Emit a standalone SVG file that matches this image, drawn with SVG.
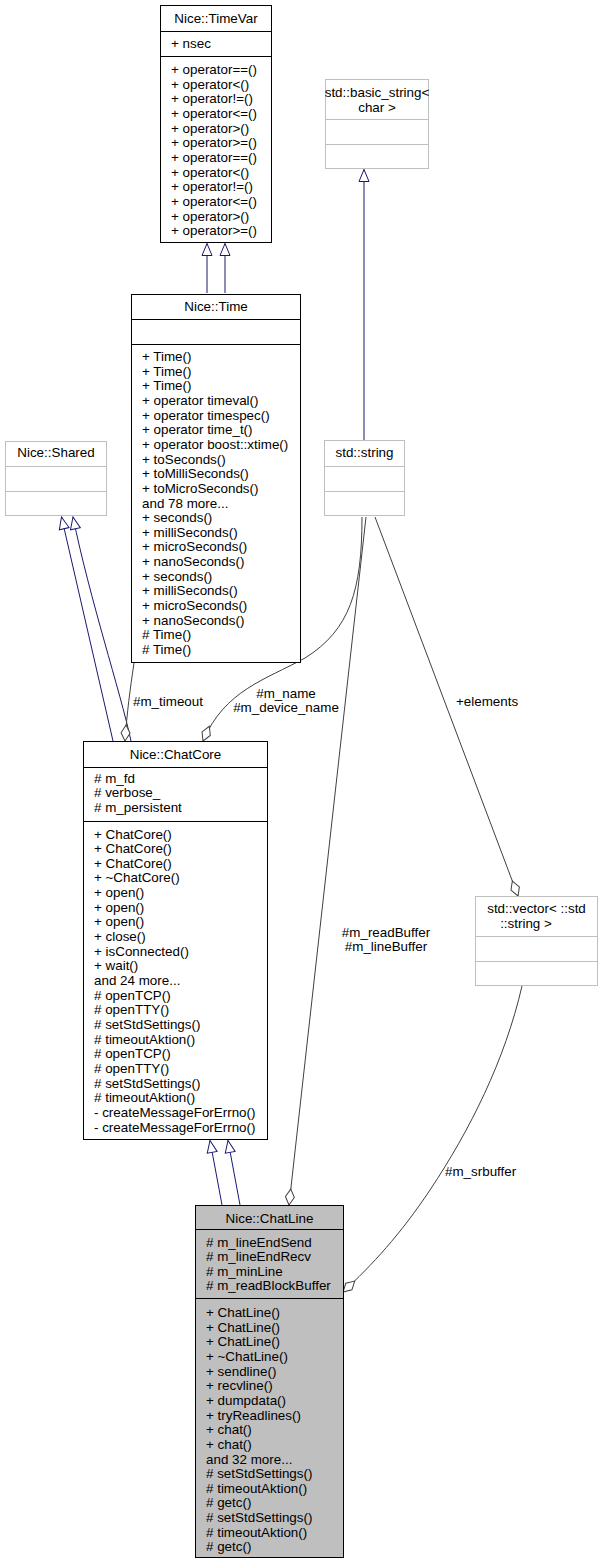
<svg xmlns="http://www.w3.org/2000/svg" width="604" height="1565" viewBox="0 0 604 1565">
<style>
text{font-family:"Liberation Sans",Arial,sans-serif;font-size:13.4px;fill:#000}
.c{text-anchor:middle}
.box{fill:#fff;stroke:#000;stroke-width:1}
.gbox{fill:#fff;stroke:#bfbfbf;stroke-width:1}
.sel{fill:#bfbfbf;stroke:#000;stroke-width:1}
.sep{stroke:#000;stroke-width:1}
.gsep{stroke:#bfbfbf;stroke-width:1}
.inh{fill:none;stroke:#191970;stroke-width:1;marker-end:url(#tri)}
.agg{fill:none;stroke:#404040;stroke-width:1;marker-end:url(#dia)}
</style>
<defs>
<marker id="tri" markerUnits="userSpaceOnUse" markerWidth="14" markerHeight="12" refX="12" refY="5" orient="auto" overflow="visible">
<path d="M0,0 L12,5 L0,10 Z" fill="#fff" stroke="#191970" stroke-width="1"/>
</marker>
<marker id="dia" markerUnits="userSpaceOnUse" markerWidth="18" markerHeight="12" refX="16" refY="5" orient="auto" overflow="visible">
<path d="M0,5 L8,0.5 L16,5 L8,9.5 Z" fill="#fff" stroke="#404040" stroke-width="1"/>
</marker>
</defs>
<rect width="604" height="1565" fill="#fff"/>

<g id="connectors">
<path class="inh" d="M207,293 L207,243.5"/>
<path class="inh" d="M225,293 L225,243.5"/>
<path class="inh" d="M364,440 L364,169.5"/>
<path class="inh" d="M113,741 L61.5,517"/>
<path class="inh" d="M131,741 C120,690 90,600 73,517"/>
<path class="inh" d="M222,1205 L210,1140.5"/>
<path class="inh" d="M240,1205 L228,1140.5"/>
<path class="agg" d="M134,663 C130,690 127,712 125,741"/>
<path class="agg" d="M362,517 C362,590 350,630 305,658 C265,680 225,690 203,741"/>
<path class="agg" d="M366,517 L289,1205"/>
<path class="agg" d="M375,517 L518,896"/>
<path class="agg" d="M522,986 C505,1060 470,1130 430,1190 C400,1235 372,1265 343,1292"/>
<text x="133" y="706">#m_timeout</text>
<text class="c" x="286" y="698">#m_name</text>
<text class="c" x="286" y="712">#m_device_name</text>
<text x="456" y="706">+elements</text>
<text class="c" x="386" y="936.5">#m_readBuffer</text>
<text class="c" x="386" y="951">#m_lineBuffer</text>
<text x="445" y="1176">#m_srbuffer</text>
</g>

<g id="TimeVar">
<rect class="box" x="160.5" y="5.5" width="111" height="237"/>
<line class="sep" x1="160.5" y1="31.5" x2="271.5" y2="31.5"/>
<line class="sep" x1="160.5" y1="56.5" x2="271.5" y2="56.5"/>
<text class="c" x="216" y="23">Nice::TimeVar</text>
<text x="171" y="48">+ nsec</text>
<text x="171" y="74">+ operator==()</text>
<text x="171" y="88.65">+ operator&lt;()</text>
<text x="171" y="103.3">+ operator!=()</text>
<text x="171" y="117.95">+ operator&lt;=()</text>
<text x="171" y="132.6">+ operator&gt;()</text>
<text x="171" y="147.25">+ operator&gt;=()</text>
<text x="171" y="161.9">+ operator==()</text>
<text x="171" y="176.55">+ operator&lt;()</text>
<text x="171" y="191.2">+ operator!=()</text>
<text x="171" y="205.85">+ operator&lt;=()</text>
<text x="171" y="220.5">+ operator&gt;()</text>
<text x="171" y="235.15">+ operator&gt;=()</text>
</g>

<g id="basic_string">
<rect class="gbox" x="325.5" y="79.5" width="103" height="89"/>
<line class="gsep" x1="325.5" y1="119.5" x2="428.5" y2="119.5"/>
<line class="gsep" x1="325.5" y1="144.5" x2="428.5" y2="144.5"/>
<text class="c" x="377" y="97">std::basic_string&lt;</text>
<text class="c" x="377" y="112">char &gt;</text>
</g>

<g id="Time">
<rect class="box" x="131.5" y="294.5" width="169" height="368"/>
<line class="sep" x1="131.5" y1="319.5" x2="300.5" y2="319.5"/>
<line class="sep" x1="131.5" y1="344.5" x2="300.5" y2="344.5"/>
<text class="c" x="216" y="311">Nice::Time</text>
<text x="142" y="361">+ Time()</text>
<text x="142" y="375.65">+ Time()</text>
<text x="142" y="390.3">+ Time()</text>
<text x="142" y="404.95">+ operator timeval()</text>
<text x="142" y="419.6">+ operator timespec()</text>
<text x="142" y="434.25">+ operator time_t()</text>
<text x="142" y="448.9">+ operator boost::xtime()</text>
<text x="142" y="463.55">+ toSeconds()</text>
<text x="142" y="478.2">+ toMilliSeconds()</text>
<text x="142" y="492.85">+ toMicroSeconds()</text>
<text x="142" y="507.5">and 78 more...</text>
<text x="142" y="522.15">+ seconds()</text>
<text x="142" y="536.8">+ milliSeconds()</text>
<text x="142" y="551.45">+ microSeconds()</text>
<text x="142" y="566.1">+ nanoSeconds()</text>
<text x="142" y="580.75">+ seconds()</text>
<text x="142" y="595.4">+ milliSeconds()</text>
<text x="142" y="610.05">+ microSeconds()</text>
<text x="142" y="624.7">+ nanoSeconds()</text>
<text x="142" y="639.35"># Time()</text>
<text x="142" y="654"># Time()</text>
</g>

<g id="Shared">
<rect class="gbox" x="5.5" y="441.5" width="101" height="74"/>
<line class="gsep" x1="5.5" y1="466.5" x2="106.5" y2="466.5"/>
<line class="gsep" x1="5.5" y1="491.5" x2="106.5" y2="491.5"/>
<text class="c" x="56" y="457">Nice::Shared</text>
</g>

<g id="string">
<rect class="gbox" x="324.5" y="440.5" width="80" height="75"/>
<line class="gsep" x1="324.5" y1="466.5" x2="404.5" y2="466.5"/>
<line class="gsep" x1="324.5" y1="491.5" x2="404.5" y2="491.5"/>
<text class="c" x="364.5" y="457">std::string</text>
</g>

<g id="ChatCore">
<rect class="box" x="83.5" y="741.5" width="184" height="398"/>
<line class="sep" x1="83.5" y1="767.5" x2="267.5" y2="767.5"/>
<line class="sep" x1="83.5" y1="821.5" x2="267.5" y2="821.5"/>
<text class="c" x="175.5" y="759">Nice::ChatCore</text>
<text x="94" y="782.5"># m_fd</text>
<text x="94" y="797.15"># verbose_</text>
<text x="94" y="811.8"># m_persistent</text>
<text x="94" y="838.5">+ ChatCore()</text>
<text x="94" y="853.15">+ ChatCore()</text>
<text x="94" y="867.8">+ ChatCore()</text>
<text x="94" y="882.45">+ ~ChatCore()</text>
<text x="94" y="897.1">+ open()</text>
<text x="94" y="911.75">+ open()</text>
<text x="94" y="926.4">+ open()</text>
<text x="94" y="941.05">+ close()</text>
<text x="94" y="955.7">+ isConnected()</text>
<text x="94" y="970.35">+ wait()</text>
<text x="94" y="985">and 24 more...</text>
<text x="94" y="999.65"># openTCP()</text>
<text x="94" y="1014.3"># openTTY()</text>
<text x="94" y="1028.95"># setStdSettings()</text>
<text x="94" y="1043.6"># timeoutAktion()</text>
<text x="94" y="1058.25"># openTCP()</text>
<text x="94" y="1072.9"># openTTY()</text>
<text x="94" y="1087.55"># setStdSettings()</text>
<text x="94" y="1102.2"># timeoutAktion()</text>
<text x="94" y="1116.85">- createMessageForErrno()</text>
<text x="94" y="1131.5">- createMessageForErrno()</text>
</g>

<g id="vector">
<rect class="gbox" x="475.5" y="896.5" width="122" height="89"/>
<line class="gsep" x1="475.5" y1="936.5" x2="597.5" y2="936.5"/>
<line class="gsep" x1="475.5" y1="961.5" x2="597.5" y2="961.5"/>
<text class="c" x="536.5" y="913">std::vector&lt; ::std</text>
<text class="c" x="526" y="928">::string &gt;</text>
</g>

<g id="ChatLine">
<rect class="sel" x="195.5" y="1205.5" width="148" height="352"/>
<line class="sep" x1="195.5" y1="1229.5" x2="343.5" y2="1229.5"/>
<line class="sep" x1="195.5" y1="1298.5" x2="343.5" y2="1298.5"/>
<text class="c" x="269.5" y="1222.5">Nice::ChatLine</text>
<text x="206" y="1246.5"># m_lineEndSend</text>
<text x="206" y="1261.15"># m_lineEndRecv</text>
<text x="206" y="1275.8"># m_minLine</text>
<text x="206" y="1290.45"># m_readBlockBuffer</text>
<text x="206" y="1317">+ ChatLine()</text>
<text x="206" y="1331.65">+ ChatLine()</text>
<text x="206" y="1346.3">+ ChatLine()</text>
<text x="206" y="1360.95">+ ~ChatLine()</text>
<text x="206" y="1375.6">+ sendline()</text>
<text x="206" y="1390.25">+ recvline()</text>
<text x="206" y="1404.9">+ dumpdata()</text>
<text x="206" y="1419.55">+ tryReadlines()</text>
<text x="206" y="1434.2">+ chat()</text>
<text x="206" y="1448.85">+ chat()</text>
<text x="206" y="1463.5">and 32 more...</text>
<text x="206" y="1478.15"># setStdSettings()</text>
<text x="206" y="1492.8"># timeoutAktion()</text>
<text x="206" y="1507.45"># getc()</text>
<text x="206" y="1522.1"># setStdSettings()</text>
<text x="206" y="1536.75"># timeoutAktion()</text>
<text x="206" y="1551.4"># getc()</text>
</g>
</svg>
